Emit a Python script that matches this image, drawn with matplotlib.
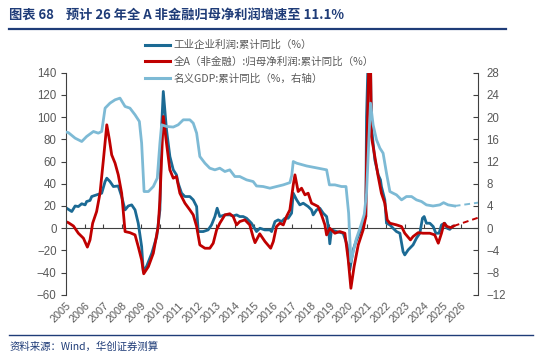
import matplotlib
matplotlib.use("Agg")
import matplotlib.pyplot as plt
from matplotlib.lines import Line2D

# ---- data ----
ind_t = [2005.05, 2005.32, 2005.50, 2005.67, 2005.85, 2006.03, 2006.11, 2006.29, 2006.38, 2006.64,
         2006.91, 2007.09, 2007.18, 2007.35, 2007.53, 2007.79, 2007.97, 2008.15, 2008.32, 2008.50,
         2008.68, 2008.85, 2009.03, 2009.12, 2009.30, 2009.57, 2009.83, 2010.00, 2010.09, 2010.18,
         2010.35, 2010.53, 2010.71, 2010.88, 2010.97, 2011.15, 2011.33, 2011.59, 2011.77, 2011.95,
         2012.03, 2012.30, 2012.56, 2012.74, 2012.92, 2013.04, 2013.18, 2013.45, 2013.71, 2013.89,
         2014.07, 2014.24, 2014.42, 2014.60, 2014.86, 2015.13, 2015.31, 2015.57, 2015.84, 2015.93,
         2016.11, 2016.28, 2016.46, 2016.64, 2016.81, 2016.99, 2017.08, 2017.26, 2017.43, 2017.61,
         2017.87, 2018.05, 2018.14, 2018.32, 2018.49, 2018.67, 2018.85, 2018.94, 2019.02, 2019.11,
         2019.38, 2019.73, 2019.94, 2020.08, 2020.26, 2020.44, 2020.62, 2020.79, 2020.93, 2020.97,
         2021.10, 2021.15, 2021.23, 2021.41, 2021.59, 2021.71, 2021.76, 2021.94, 2022.03, 2022.21,
         2022.38, 2022.56, 2022.74, 2022.91, 2023.00, 2023.18, 2023.44, 2023.62, 2023.80, 2023.94,
         2024.03, 2024.15, 2024.33, 2024.51, 2024.65, 2024.82, 2024.95, 2025.12, 2025.25, 2025.39,
         2025.53]
ind_v = [18, 15, 20, 19.5, 22, 21, 24, 25, 28.5, 30,
         31.5, 42, 45, 42, 37.5, 38, 28.5, 16.5, 20, 21,
         16.5, 4.5, -16.5, -39, -34, -22.5, -7.5, 16.5, 91, 123,
         88.5, 64.5, 52.5, 48, 40.5, 31.5, 28.5, 28.5, 25.5, 19.5,
         -3, -3, -1.5, 3, 10.5, 18, 10.5, 12, 12, 11,
         12, 10.5, 10.5, 9, 4.5, -3, 0, -1.5, -1.5, -3,
         6, 7.5, 6, 9, 9, 13.5, 31.5, 25.5, 21, 22.5,
         19.5, 16.5, 12, 16.5, 18, 13.5, 10.5, 1.5, -14, -1.5,
         -3, -4.5, -15, -37.5, -19.5, -10.5, -3, 4.5, 10.5, 100,
         180, 180, 91.5, 61.5, 48, 43.5, 37.5, 25.5, 4.5, 3,
         0, -3, -4.5, -21, -24, -19.5, -15, -9, -4.5, 9,
         10.5, 4.5, 4.5, 1.5, -4.5, -4.5, 3, 4.5, 0, -1,
         1.5]

a_t = [2005.0, 2005.14, 2005.41, 2005.67, 2005.94, 2006.15, 2006.29, 2006.43, 2006.64, 2006.82,
       2007.00, 2007.18, 2007.32, 2007.44, 2007.62, 2007.79, 2007.97, 2008.15, 2008.41, 2008.68,
       2008.85, 2009.03, 2009.14, 2009.39, 2009.65, 2009.91, 2010.00, 2010.18, 2010.35, 2010.53,
       2010.71, 2010.88, 2011.06, 2011.33, 2011.59, 2011.77, 2011.95, 2012.12, 2012.39, 2012.65,
       2012.83, 2013.01, 2013.18, 2013.45, 2013.71, 2013.89, 2014.07, 2014.24, 2014.51, 2014.77,
       2014.95, 2015.05, 2015.30, 2015.58, 2015.88, 2016.02, 2016.19, 2016.37, 2016.55, 2016.72,
       2016.90, 2017.08, 2017.17, 2017.34, 2017.52, 2017.70, 2017.87, 2018.05, 2018.23, 2018.40,
       2018.58, 2018.76, 2018.85, 2019.02, 2019.29, 2019.55, 2019.82, 2020.00, 2020.14, 2020.31,
       2020.53, 2020.79, 2020.93, 2020.97, 2021.12, 2021.17, 2021.23, 2021.41, 2021.59, 2021.76,
       2021.94, 2022.07, 2022.21, 2022.56, 2022.83, 2023.00, 2023.30, 2023.44, 2023.71, 2023.97,
       2024.33, 2024.59, 2024.78, 2024.95, 2025.09, 2025.25, 2025.45, 2025.60]
a_v = [6, 5, 2, -4.5, -9, -17, -10.5, 4.5, 15, 31.5,
       61.5, 93, 79.5, 66, 58.5, 48, 31.5, -3, -4, -6,
       -16.5, -28.5, -41, -34.5, -22.5, 1.5, 25.5, 100.5, 76.5, 52.5,
       45, 46.5, 31.5, 22.5, 16.5, 12, 1.5, -15, -18, -18,
       -13.5, -1.5, 4.5, 12, 13, 10.5, 3, 6, 7.5, 3,
       -8, -13, -5, -12, -18, -12, 1.5, 4.5, 3, 10.5,
       16.5, 39, 48, 33, 36, 30, 31.5, 22.5, 21, 19.5,
       12, 3, -6, 0, -4.5, -3, -4.5, -28.5, -54, -34.5,
       -15, -1.5, 10.5, 60, 170, 170, 82.5, 64.5, 46.5, 31.5,
       22.5, 7.5, 4.5, 3, 1.5, -4.5, -10.5, -7.5, -4, -4.5,
       -4.5, -6, -13.5, -4.5, 4.5, 1.5, 0.5, 2]
a_fc_t = [2025.60, 2026.90]
a_fc_v = [2, 9.5]

gdp_t = [2005.0, 2005.14, 2005.50, 2005.85, 2006.11, 2006.47, 2006.73, 2006.91, 2007.09, 2007.35,
         2007.62, 2007.88, 2008.15, 2008.41, 2008.68, 2008.91, 2009.03, 2009.16, 2009.39, 2009.65,
         2009.86, 2010.00, 2010.09, 2010.35, 2010.71, 2010.97, 2011.24, 2011.59, 2011.77, 2011.95,
         2012.12, 2012.39, 2012.65, 2012.92, 2013.18, 2013.45, 2013.71, 2013.98, 2014.24, 2014.60,
         2014.95, 2015.13, 2015.48, 2015.84, 2016.19, 2016.55, 2016.90, 2017.00, 2017.08, 2017.26,
         2017.79, 2018.40, 2018.85, 2019.00, 2019.29, 2019.64, 2019.88, 2020.02, 2020.14, 2020.42,
         2020.67, 2020.85, 2020.97, 2021.18, 2021.32, 2021.50, 2021.68, 2021.85, 2022.03, 2022.21,
         2022.38, 2022.56, 2022.83, 2023.09, 2023.36, 2023.62, 2023.89, 2024.15, 2024.50, 2024.86,
         2025.06, 2025.30, 2025.65]
gdp_v = [17.3, 17.2, 16.2, 15.6, 16.5, 17.4, 17.1, 17.4, 21.6, 22.5,
         23.1, 23.4, 21.9, 21.6, 20.4, 19.2, 15.3, 6.6, 6.6, 7.5,
         9, 15.3, 18.6, 18.3, 18.2, 18.6, 19.5, 19.5, 18.9, 17.1,
         12.9, 11.7, 10.8, 10.5, 10.8, 10.2, 10.5, 9.3, 9.3, 8.7,
         8.4, 7.6, 7.5, 7.2, 7.5, 7.8, 8.2, 9.5, 12, 11.7,
         11.2, 10.8, 10.5, 7.8, 7.8, 7.5, 7.5, 2.7, -6, -2,
         0.5, 2.5, 6.3, 22.5, 18.6, 15.9, 14.4, 13.5, 9.9, 6.6,
         6.3, 6.0, 5.1, 5.7, 5.7, 5.1, 4.8, 4.2, 4.0, 4.2,
         4.6, 4.2, 4.0]
gdp_fc_t = [2025.65, 2026.90]
gdp_fc_v = [4.0, 4.6]

years = list(range(2005, 2027))
left_ticks = list(range(-60, 141, 20))
right_ticks = list(range(-12, 29, 4))

labels = ["工业企业利润:累计同比（%）",
          "全A（非金融）:归母净利润:累计同比（%）",
          "名义GDP:累计同比（%，右轴）"]
title = "图表 68    预计 26 年全 A 非金融归母净利润增速至 11.1%"
source = "资料来源：Wind，华创证券测算"

# ---- style ----
c_ind = "#1b6a94"
c_a = "#c00000"
c_gdp = "#7dbad5"
navy = "#1f3c78"
grey_txt = "#595959"
axis_c = "#404040"
cjk = ["Noto Sans CJK SC", "DejaVu Sans"]
plt.rcParams["font.family"] = ["Liberation Sans", "Noto Sans CJK SC", "DejaVu Sans"]

fig = plt.figure(figsize=(5.5, 3.61), dpi=100)
ax = fig.add_axes([0.1195, 0.183, 0.750, 0.616])
ax2 = ax.twinx()

ax.plot(ind_t, ind_v, color=c_ind, lw=2.0, solid_joinstyle="round")
ax.plot(a_t, a_v, color=c_a, lw=2.0, solid_joinstyle="round")
ax.plot(a_fc_t, a_fc_v, color=c_a, lw=1.4, ls=(0, (3, 2)))
ax2.plot(gdp_t, gdp_v, color=c_gdp, lw=2.0, solid_joinstyle="round")
ax2.plot(gdp_fc_t, gdp_fc_v, color=c_gdp, lw=1.4, ls=(0, (3, 2)))

ax.set_xlim(2005.0, 2026.9)
ax.set_ylim(-60, 140)
ax2.set_ylim(-12, 28)
ax.set_yticks(left_ticks)
ax2.set_yticks(right_ticks)
ax.set_xticks(years)
ax.set_xticklabels([str(y) for y in years], rotation=45, ha="right",
                   rotation_mode="anchor", fontsize=7.8, color=grey_txt)

for a in (ax, ax2):
    for s in ("top", "bottom"):
        a.spines[s].set_visible(False)
ax.spines["right"].set_visible(False)
ax2.spines["left"].set_visible(False)
ax.spines["left"].set_color(axis_c)
ax2.spines["right"].set_color(axis_c)

ax.tick_params(axis="x", length=0, pad=4)
ax.tick_params(axis="y", direction="out", length=3.5, color=axis_c,
               labelsize=8.3, labelcolor=grey_txt, pad=3)
ax2.tick_params(axis="y", direction="in", length=3.5, color=axis_c,
                labelsize=8.3, labelcolor=grey_txt, pad=6)

# zero line with small upward year ticks
zero_frac = (0 - (-60)) / (140 - (-60))
zx = ax.secondary_xaxis(zero_frac)
zx.set_xticks(years)
zx.tick_params(axis="x", direction="in", length=3, color=axis_c, labelbottom=False, labeltop=False)
for s in zx.spines.values():
    s.set_color(axis_c)

# legend
handles = [Line2D([], [], color=c_ind, lw=2.2),
           Line2D([], [], color=c_a, lw=2.2),
           Line2D([], [], color=c_gdp, lw=2.2)]
fig.legend(handles, labels, loc="upper left", bbox_to_anchor=(145 / 550, 1 - 40 / 361),
           frameon=False, borderpad=0, borderaxespad=0, handlelength=2.4, handletextpad=0.3,
           labelspacing=0.62, prop={"family": cjk, "size": 7.6}, labelcolor=grey_txt)

# title, rules, source
fig.text(9 / 550, 1 - 15 / 361, title, family=cjk, fontsize=9.5, fontweight="bold",
         color=navy, va="center", ha="left")
fig.add_artist(Line2D([9 / 550, 506 / 550], [1 - 29 / 361, 1 - 29 / 361],
                      color=navy, lw=1.6, transform=fig.transFigure))
fig.add_artist(Line2D([9 / 550, 533 / 550], [1 - 335 / 361, 1 - 335 / 361],
                      color=navy, lw=1.0, transform=fig.transFigure))
fig.text(10 / 550, 1 - 347 / 361, source, family=cjk, fontsize=7.5, style="italic",
         color=navy, va="center", ha="left")

fig.savefig("out.png", dpi=100)
